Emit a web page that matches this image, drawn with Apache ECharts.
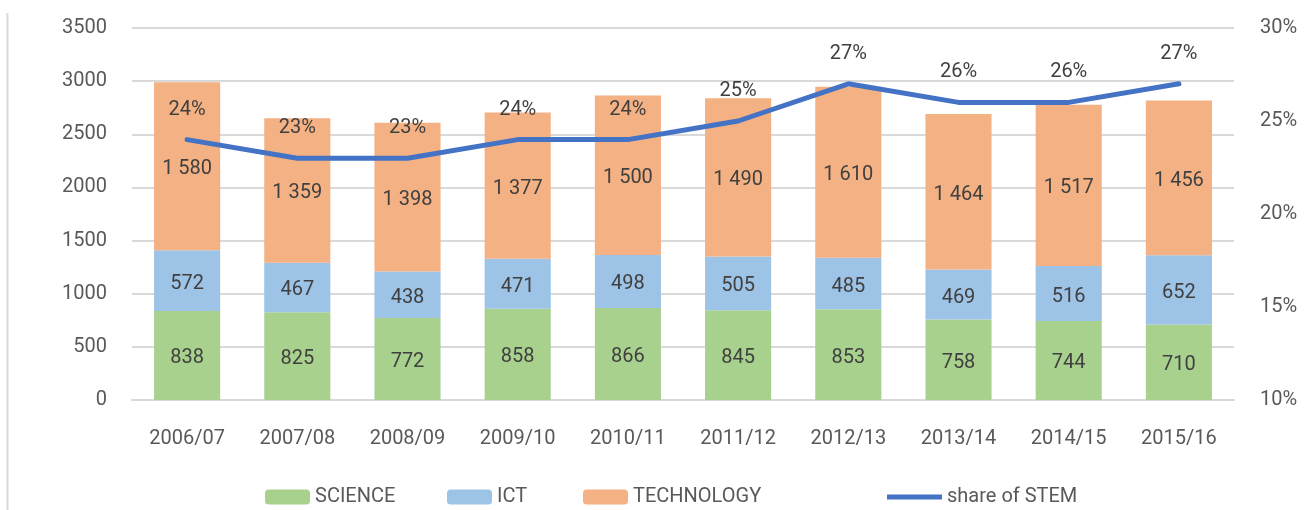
<!DOCTYPE html>
<html>
<head>
<meta charset="utf-8">
<script src="https://cdn.jsdelivr.net/npm/echarts@6/dist/echarts.min.js"></script>
<style>
  html, body { margin: 0; padding: 0; background: #fff; }
  #chart { width: 1304px; height: 510px; }
</style>
</head>
<body>
<div id="chart"></div>
<script>
const years = ['2006/07', '2007/08', '2008/09', '2009/10', '2010/11', '2011/12', '2012/13', '2013/14', '2014/15', '2015/16']
const science = [838, 825, 772, 858, 866, 845, 853, 758, 744, 710]
const ict = [572, 467, 438, 471, 498, 505, 485, 469, 516, 652]
const technology = [1580, 1359, 1398, 1377, 1500, 1490, 1610, 1464, 1517, 1456]
const stemShare = [24, 23, 23, 24, 24, 25, 27, 26, 26, 27]

const textColor = '#595959'
const labelColor = '#404040'
const font = 'Roboto'

// thousands with a space, like "1 580"
const fmt = v => String(v).replace(/\B(?=(\d{3})+(?!\d))/g, ' ')

const barLabel = {
  show: true,
  position: 'inside',
  offset: [0, 3],
  color: labelColor,
  fontFamily: font,
  fontSize: 20,
  formatter: p => fmt(p.value)
}

// one legend block per item so each sits where the original put it
const legendItem = (left, item, w) => ({
  left: left,
  top: 482,
  itemWidth: w || 45,
  itemHeight: 15,
  textStyle: { color: textColor, fontSize: 20, fontFamily: font },
  data: [item]
})

const myChart = echarts.init(document.getElementById('chart'))

const option = {
  animation: false,
  textStyle: { fontFamily: font },
  graphic: [
    {
      type: 'line',
      shape: { x1: 7.5, y1: 13, x2: 7.5, y2: 510 },
      style: { stroke: '#d9d9d9', lineWidth: 2 }
    }
  ],
  grid: { left: 132, right: 70, top: 28, bottom: 110 },
  legend: [
    legendItem(260, 'SCIENCE'),
    legendItem(442, 'ICT'),
    legendItem(578, 'TECHNOLOGY'),
    legendItem(882, { name: 'share of STEM', icon: 'path://M0,0 L55,0 L55,5 L0,5 Z' }, 55)
  ],
  xAxis: {
    type: 'category',
    data: years,
    axisLine: { lineStyle: { color: '#d9d9d9', width: 2 } },
    axisTick: { show: false },
    axisLabel: { color: textColor, fontSize: 20, fontFamily: font, margin: 29 }
  },
  yAxis: [
    {
      type: 'value',
      min: 0,
      max: 3500,
      interval: 500,
      axisLine: { show: false },
      axisTick: { show: false },
      splitLine: { lineStyle: { color: '#d9d9d9', width: 2 } },
      axisLabel: { color: textColor, fontSize: 20, fontFamily: font, margin: 25, formatter: v => String(v) }
    },
    {
      type: 'value',
      min: 10,
      max: 30,
      interval: 5,
      axisLine: { show: false },
      axisTick: { show: false },
      splitLine: { show: false },
      axisLabel: { color: textColor, fontSize: 20, fontFamily: font, margin: 26, formatter: '{value}%' }
    }
  ],
  series: [
    {
      name: 'SCIENCE',
      type: 'bar',
      stack: 'stem',
      barWidth: '60%',
      itemStyle: { color: '#a9d18e' },
      label: barLabel,
      data: science
    },
    {
      name: 'ICT',
      type: 'bar',
      stack: 'stem',
      itemStyle: { color: '#9dc3e6' },
      label: barLabel,
      data: ict
    },
    {
      name: 'TECHNOLOGY',
      type: 'bar',
      stack: 'stem',
      itemStyle: { color: '#f4b183' },
      label: barLabel,
      data: technology
    },
    {
      name: 'share of STEM',
      type: 'line',
      yAxisIndex: 1,
      symbol: 'circle',
      symbolSize: 0,
      showSymbol: true,
      lineStyle: { color: '#4472c4', width: 5, cap: 'round' },
      itemStyle: { color: '#4472c4' },
      label: {
        show: true,
        position: 'top',
        distance: 20,
        color: labelColor,
        fontFamily: font,
        fontSize: 20,
        formatter: '{c}%'
      },
      data: stemShare
    }
  ]
}

myChart.setOption(option)
window.onresize = function () {
  myChart.resize()
}
</script>
</body>
</html>
